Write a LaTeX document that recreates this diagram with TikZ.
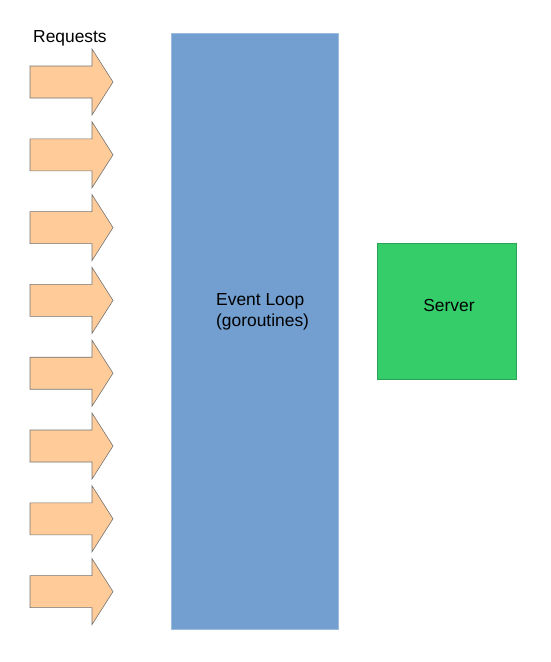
\documentclass[tikz,border=0pt]{standalone}
\usepackage{fontspec}
\setmainfont{Liberation Sans}
\definecolor{peach}{RGB}{255,204,153}
\definecolor{loopblue}{RGB}{114,159,207}
\definecolor{srvgreen}{RGB}{53,204,106}
\tikzset{
  reqarrow/.style={fill=peach, draw=black!55, line width=0.6pt, line join=miter},
  lbl/.style={font=\fontsize{17.4}{21}\selectfont, inner sep=0pt},
}
\begin{document}
\begin{tikzpicture}[x=1pt,y=-1pt]
\useasboundingbox (0,0) rectangle (550,662);
\foreach \i in {0,...,7}{
  \pgfmathsetmacro{\cy}{82+72.8*\i}
  \draw[reqarrow] (30,\cy-16) -- (92,\cy-16) -- (92,\cy-33) -- (113,\cy) -- (92,\cy+33) -- (92,\cy+16) -- (30,\cy+16) -- cycle;
}
\node[lbl, anchor=west] (req) at (33,38) {Requests};
\node[fill=loopblue, draw=loopblue!70!white, line width=0.6pt, minimum width=167.3pt, minimum height=595.7pt, inner sep=0pt, anchor=north west] (loop) at (170.7,33.3) {};
\node[lbl, anchor=west, align=left] (looptext) at (216,311.5) {Event Loop\\(goroutines)};
\node[fill=srvgreen, draw=srvgreen!80!black, line width=0.6pt, minimum width=139.3pt, minimum height=135.7pt, inner sep=0pt, anchor=north west] (server) at (376.7,243.3) {};
\node[lbl] (srvtext) at (449,306) {Server};
\end{tikzpicture}
\end{document}
